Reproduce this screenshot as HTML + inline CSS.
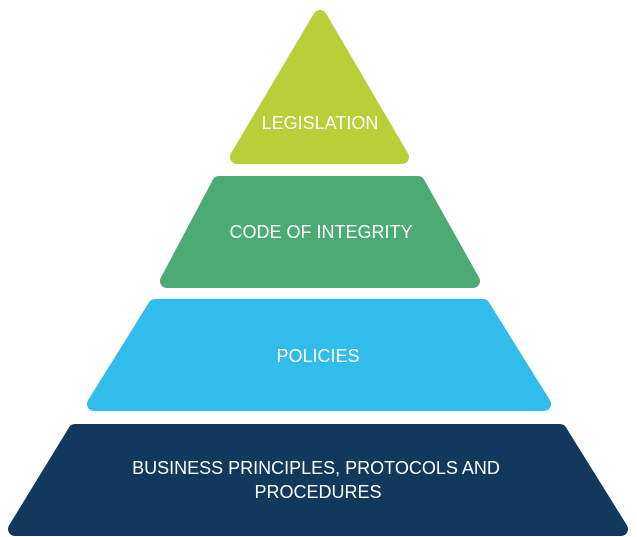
<!DOCTYPE html>
<html><head><meta charset="utf-8"><style>
html,body{margin:0;padding:0;background:#fff;width:637px;height:537px;overflow:hidden}
text{font-family:"Liberation Sans",sans-serif;font-size:18px;fill:#fff;text-anchor:middle}
</style></head><body>
<svg width="637" height="537" viewBox="0 0 637 537" xmlns="http://www.w3.org/2000/svg">
<g stroke-linejoin="round" stroke-width="14">
<polygon points="320,17 402,157 237,157" fill="#b8cf38" stroke="#b8cf38"/>
<polygon points="219,183 418,183 473,281 167,281" fill="#4caa73" stroke="#4caa73"/>
<polygon points="155,306 483,306 544,404 94,404" fill="#31bdec" stroke="#31bdec"/>
<polygon points="75,431 560,431 621,529 15,529" fill="#12395d" stroke="#12395d"/>
</g>
<text x="320" y="129">LEGISLATION</text>
<text x="321" y="238">CODE OF INTEGRITY</text>
<text x="318" y="362">POLICIES</text>
<text x="316" y="474">BUSINESS PRINCIPLES, PROTOCOLS AND</text>
<text x="318" y="498">PROCEDURES</text>
</svg>
</body></html>
